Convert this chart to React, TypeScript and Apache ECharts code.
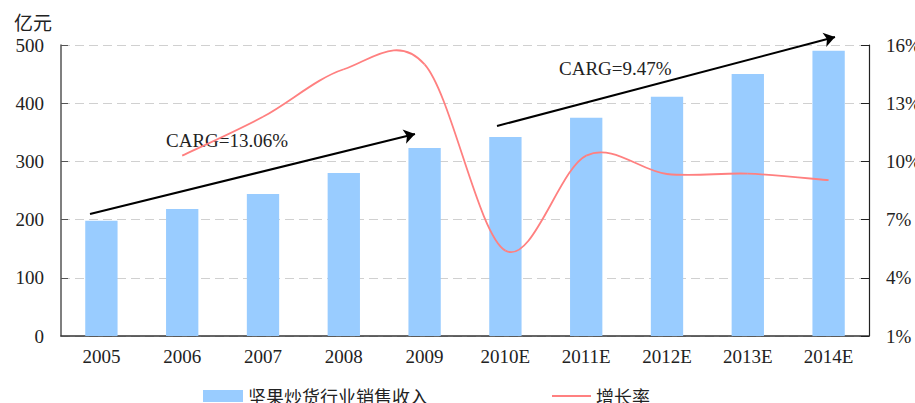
import React, { useEffect, useRef } from "react";
import * as echarts from "echarts";

const categories = ["2005", "2006", "2007", "2008", "2009", "2010E", "2011E", "2012E", "2013E", "2014E"];
const salesRevenue = [198, 218, 244, 280, 323, 342, 375, 411, 450, 490];
const growthRate: (number | null)[] = [null, 10.3, 12.3, 14.75, 15.0, 5.4, 10.3, 9.35, 9.37, 9.03];
const leftTicks = { min: 0, max: 500, interval: 100 };
const rightTicks = { min: 1, max: 16, interval: 3 };
const barName = "坚果炒货行业销售收入";
const lineName = "增长率";
const cagrLabels = ["CARG=13.06%", "CARG=9.47%"];

const SERIF = "Liberation Serif";
const CJK = "Noto Sans CJK SC";
const LINE_COLOR = "#ff8080";

export default function App() {
  const ref = useRef<HTMLDivElement>(null);
  useEffect(() => {
    if (!ref.current) return;
    const chart = echarts.init(ref.current, null, { renderer: "svg" });
    const n = growthRate.length;
    const option: any = {
      animation: false,
      backgroundColor: "#fff",
      textStyle: { fontFamily: SERIF },
      grid: { left: 61, right: 46, top: 45, bottom: 67, containLabel: false, outerBoundsMode: "none" },
      legend: [
        {
          left: 203,
          top: 387,
          padding: 0,
          itemWidth: 40,
          itemHeight: 12,
          data: [{ name: barName, icon: "rect" }],
          textStyle: { fontSize: 18, color: "#222", fontFamily: CJK },
        },
        {
          left: 552,
          top: 387,
          padding: 0,
          itemWidth: 39,
          itemHeight: 2,
          data: [{ name: lineName, icon: "rect" }],
          textStyle: { fontSize: 18, color: "#222", fontFamily: CJK },
        },
      ],
      xAxis: {
        type: "category",
        data: categories,
        axisLine: { lineStyle: { color: "#333", width: 1.5 } },
        axisTick: { show: false },
        axisLabel: { color: "#222", fontSize: 19, margin: 11, fontFamily: SERIF },
      },
      yAxis: [
        {
          type: "value",
          ...leftTicks,
          name: "亿元",
          nameLocation: "end",
          nameGap: 14,
          nameTextStyle: { color: "#222", fontSize: 19, align: "right", padding: [0, 9, 0, 0], fontFamily: CJK },
          axisLine: { show: true, lineStyle: { color: "#555", width: 1.5 } },
          axisTick: { show: true, inside: true, length: 7, lineStyle: { color: "#555" } },
          axisLabel: { color: "#222", fontSize: 19, margin: 17, fontFamily: SERIF },
          splitLine: { show: true, lineStyle: { color: "#d0d0d0", type: [9, 5], width: 1.2 } },
        },
        {
          type: "value",
          ...rightTicks,
          position: "right",
          axisLine: { show: true, lineStyle: { color: "#222", width: 1.2 } },
          axisTick: { show: true, inside: true, length: 8, lineStyle: { color: "#222" } },
          axisLabel: { color: "#222", fontSize: 19, margin: 17, formatter: "{value}%", fontFamily: SERIF },
          splitLine: { show: false },
        },
      ],
      series: [
        {
          name: barName,
          type: "bar",
          z: 2,
          data: salesRevenue,
          barWidth: "40%",
          itemStyle: { color: "#99ccff" },
          markLine: {
            silent: true,
            z: 6,
            symbol: ["none", "arrow"],
            symbolSize: 11,
            label: { show: false },
            lineStyle: { color: "#000", width: 2, type: "solid" },
            data: [
              [{ x: 90, y: 214, symbol: "none" }, { x: 415, y: 134, symbol: "arrow", symbolSize: 11 }],
              [{ x: 497, y: 126, symbol: "none" }, { x: 835, y: 37, symbol: "arrow", symbolSize: 11 }],
            ],
          },
        },
        {
          name: lineName,
          type: "custom",
          z: 5,
          yAxisIndex: 1,
          coordinateSystem: "cartesian2d",
          clip: false,
          itemStyle: { color: LINE_COLOR },
          encode: { x: 0, y: 1 },
          data: categories.map((c, i) => [i, growthRate[i] == null ? "-" : growthRate[i]]),
          renderItem: (params: any, api: any) => {
            const i = params.dataIndex;
            if (i < 1 || growthRate[i] == null || growthRate[i - 1] == null) return null;
            const pt = (k: number) => api.coord([k, growthRate[k]]);
            const p1 = pt(i - 1);
            const p2 = pt(i);
            const p0 = i - 2 >= 0 && growthRate[i - 2] != null ? pt(i - 2) : p1;
            const p3 = i + 1 < n && growthRate[i + 1] != null ? pt(i + 1) : p2;
            return {
              type: "bezierCurve",
              z2: 10,
              shape: {
                x1: p1[0],
                y1: p1[1],
                x2: p2[0],
                y2: p2[1],
                cpx1: p1[0] + (p2[0] - p0[0]) / 6,
                cpy1: p1[1] + (p2[1] - p0[1]) / 6,
                cpx2: p2[0] - (p3[0] - p1[0]) / 6,
                cpy2: p2[1] - (p3[1] - p1[1]) / 6,
              },
              style: { stroke: LINE_COLOR, lineWidth: 1.8, fill: null },
            };
          },
        },
      ],
      graphic: [
        { type: "text", left: 166, top: 131, style: { text: cagrLabels[0], fontSize: 19, fontFamily: SERIF, fill: "#222" } },
        { type: "text", left: 559, top: 59, style: { text: cagrLabels[1], fontSize: 19, fontFamily: SERIF, fill: "#222" } },
      ],
    };
    chart.setOption(option);
    return () => chart.dispose();
  }, []);
  return <div ref={ref} style={{ position: "fixed", left: 0, top: 0, width: 915, height: 403 }} />;
}
